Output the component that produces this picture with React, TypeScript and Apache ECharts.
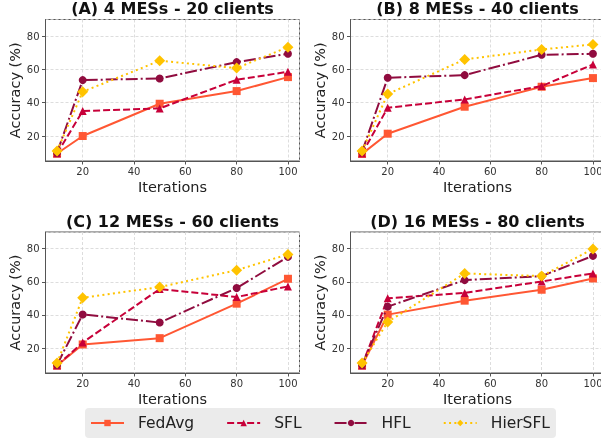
import React, { useEffect, useRef } from "react";
import * as echarts from "echarts";

const iterations = [10, 20, 50, 80, 100];
const methodNames = ["FedAvg", "SFL", "HFL", "HierSFL"];
const panelTitles = [
  "(A) 4 MESs - 20 clients",
  "(B) 8 MESs - 40 clients",
  "(C) 12 MESs - 60 clients",
  "(D) 16 MESs - 80 clients",
];

const fedAvgA = [9.5, 20, 39.4, 47, 55.4];
const sflA = [9.5, 35, 36.6, 53.8, 58.6];
const hflA = [10, 53.6, 54.6, 64.4, 69.4];
const hierA = [11, 46.6, 65.2, 60.8, 73.4];

const fedAvgB = [9.3, 21.4, 37.6, 49.6, 54.8];
const sflB = [9.5, 37, 42, 50, 63];
const hflB = [10.5, 55, 56.6, 68.8, 69.4];
const hierB = [11, 45.2, 66, 72, 75];

const fedAvgC = [9.5, 22.2, 26, 46.8, 61.8];
const sflC = [9.5, 23.4, 55.6, 50.8, 57.2];
const hflC = [10, 40.3, 35.4, 56.2, 75];
const hierC = [11, 50.4, 56.8, 67, 76.5];

const fedAvgD = [9.5, 40.2, 48.6, 55.2, 62];
const sflD = [9.5, 50, 53.3, 60.2, 65];
const hflD = [10, 45, 61, 63.4, 75.6];
const hierD = [11, 35.8, 65, 63.4, 79.8];

const panels = [
  [fedAvgA, sflA, hflA, hierA],
  [fedAvgB, sflB, hflB, hierB],
  [fedAvgC, sflC, hflC, hierC],
  [fedAvgD, sflD, hflD, hierD],
];

const FONT = "DejaVu Sans";
const colors = ["#FF5733", "#C70039", "#900C3F", "#FFC300"];
const symbols = ["rect", "triangle", "circle", "diamond"];
const symbolSizes = [8, 8, 8, 11];
const lineTypes: any[] = ["solid", [7, 3], [12, 3, 2, 3], [2, 3.3]];

const gridPos = [
  { left: 45.5, top: 19.5, width: 254, height: 141.5 },
  { left: 350.5, top: 19.5, width: 254, height: 141.5 },
  { left: 45.5, top: 232, width: 254, height: 141 },
  { left: 350.5, top: 232, width: 254, height: 141 },
];

export default function App() {
  const ref = useRef<HTMLDivElement>(null);
  useEffect(() => {
    if (!ref.current) return;
    const chart = echarts.init(ref.current, undefined, { renderer: "svg" });
    const grids = gridPos.map((g) => ({
      ...g,
      show: true,
      borderColor: "#555",
      borderWidth: 1,
      backgroundColor: "transparent",
      containLabel: false,
      outerBoundsMode: "none",
    }));
    const xAxes = gridPos.map((_, i) => ({
      type: "value",
      gridIndex: i,
      min: 5.5,
      max: 104.5,
      name: "Iterations",
      nameLocation: "middle",
      nameGap: 18,
      nameTextStyle: { fontFamily: FONT, fontSize: 14.5, color: "#222" },
      axisLine: { show: true, lineStyle: { color: "#555", width: 1 } },
      axisTick: { show: true, length: 3.5, lineStyle: { color: "#555" } },
      axisLabel: {
        showMinLabel: false,
        showMaxLabel: false,
        margin: 5,
        fontFamily: FONT,
        fontSize: 10,
        color: "#333",
      },
      splitLine: { show: true, lineStyle: { color: "#d4d4d4", type: [3, 2], width: 0.8 } },
    }));
    const yAxes = gridPos.map((_, i) => ({
      type: "value",
      gridIndex: i,
      min: 5,
      max: 90,
      name: "Accuracy (%)",
      nameLocation: "middle",
      nameGap: 23,
      nameTextStyle: { fontFamily: FONT, fontSize: 14.5, color: "#222" },
      axisLine: { show: true, lineStyle: { color: "#555", width: 1 } },
      axisTick: { show: true, length: 3.5, lineStyle: { color: "#555" } },
      axisLabel: {
        showMinLabel: false,
        showMaxLabel: false,
        margin: 6,
        fontFamily: FONT,
        fontSize: 10,
        color: "#333",
      },
      splitLine: { show: true, lineStyle: { color: "#d4d4d4", type: [3, 2], width: 0.8 } },
    }));
    const series: any[] = [];
    panels.forEach((panel, p) => {
      panel.forEach((vals, m) => {
        series.push({
          type: "line",
          name: methodNames[m],
          xAxisIndex: p,
          yAxisIndex: p,
          data: iterations.map((x, k) => [x, vals[k]]),
          symbol: symbols[m],
          symbolSize: symbolSizes[m],
          showAllSymbol: true,
          color: colors[m],
          lineStyle: { color: colors[m], width: 2, type: lineTypes[m] },
          itemStyle: { color: colors[m] },
          z: 2 + m,
        });
      });
    });
    const titles = panelTitles.map((t, i) => ({
      text: t,
      left: gridPos[i].left + gridPos[i].width / 2,
      top: i < 2 ? 0 : 213,
      textAlign: "center",
      padding: 0,
      textStyle: { fontFamily: FONT, fontSize: 16, fontWeight: "bold", color: "#111" },
    }));
    chart.setOption({
      animation: false,
      title: titles,
      grid: grids,
      xAxis: xAxes,
      yAxis: yAxes,
      series,
      legend: {
        data: methodNames,
        left: 85,
        top: 408,
        orient: "horizontal",
        itemWidth: 33,
        itemHeight: 8,
        itemGap: 32,
        padding: [7, 6, 7, 5],
        backgroundColor: "#ebebeb",
        borderRadius: 4,
        textStyle: {
          fontFamily: FONT,
          fontSize: 15.5,
          color: "#222",
          padding: [0, 0, 0, 9],
          lineHeight: 15,
        },
      },
    });
    return () => chart.dispose();
  }, []);
  return (
    <div
      ref={ref}
      style={{ position: "fixed", left: 0, top: 0, width: 601, height: 438 }}
    />
  );
}
